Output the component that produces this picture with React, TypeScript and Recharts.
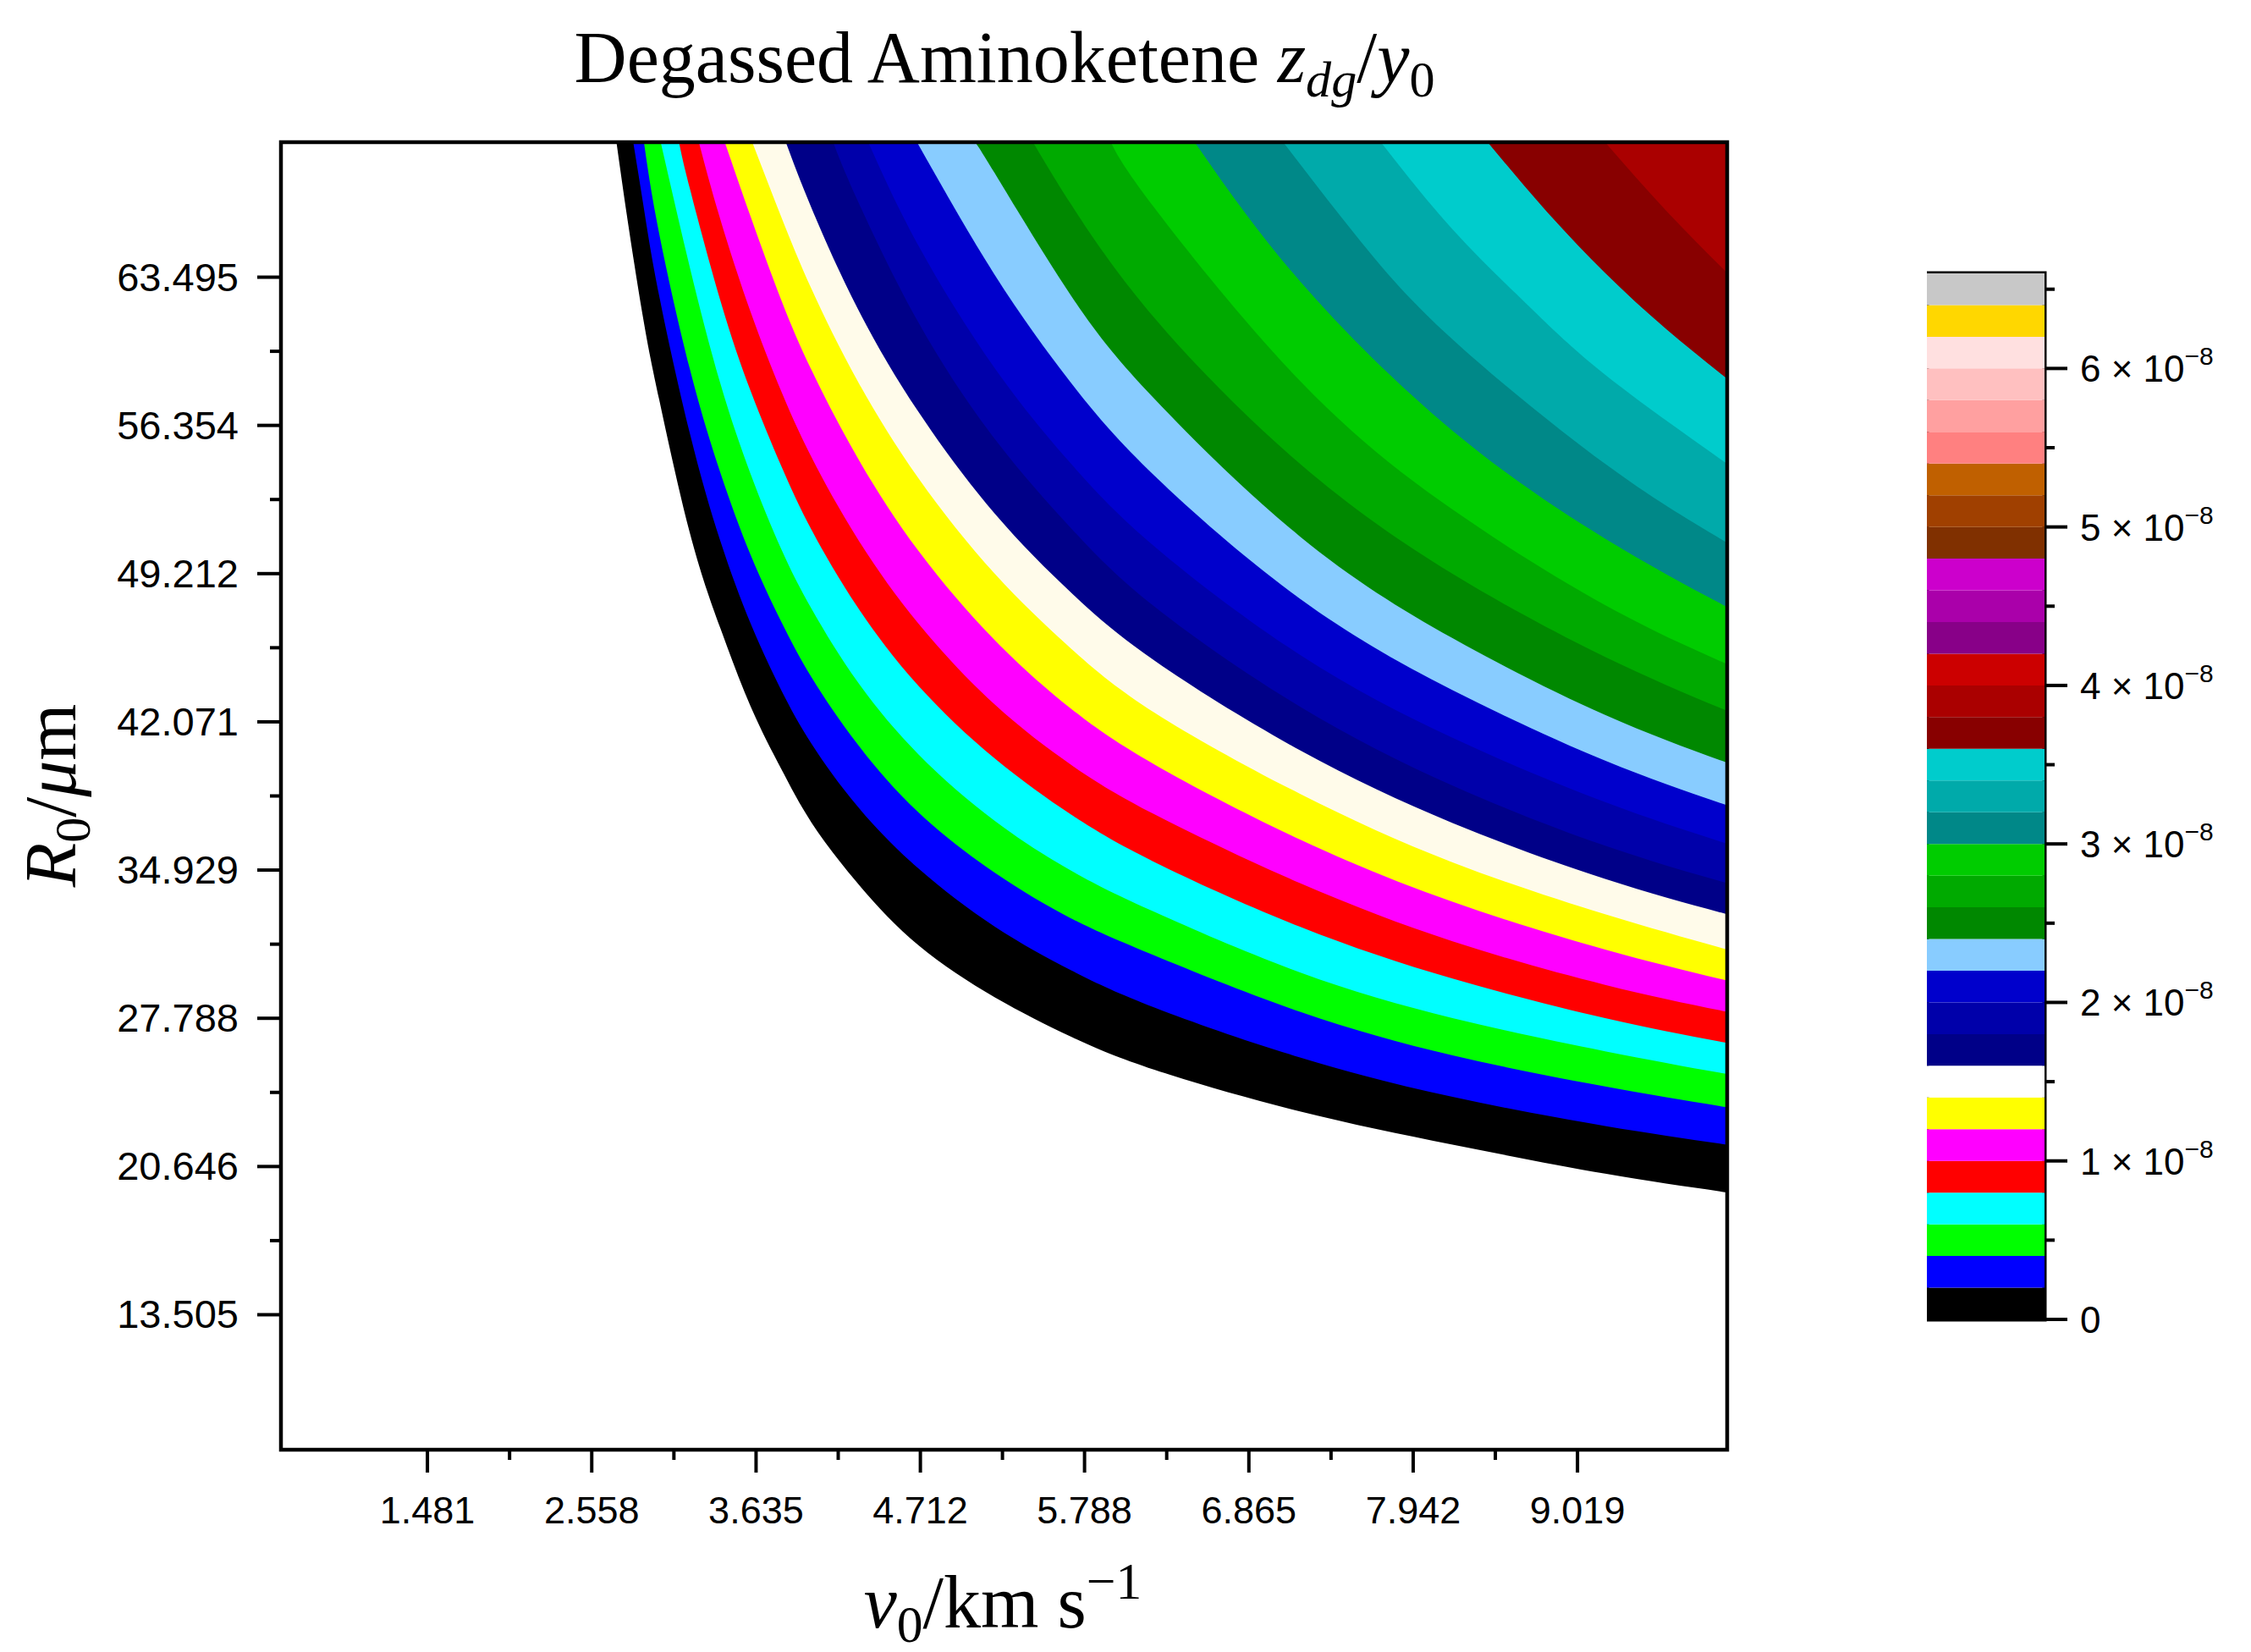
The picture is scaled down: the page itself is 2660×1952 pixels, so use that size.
import React from 'react'
import { ComposedChart, Area, XAxis, YAxis, ReferenceArea, BarChart, Bar } from 'recharts'

// contour edges, as [v0 (km/s), R0 (um)] pairs
// edge k is the lower edge of band k
const edge00: [number, number][] = [[2.72, 70], [2.8, 65.9], [2.9, 61.3], [3.0, 57.6], [3.2, 51.2], [3.4, 46.6], [3.6, 42.8], [3.8, 39.8], [4.0, 37.2], [4.3, 34.3], [4.7, 31.3], [5.2, 28.8], [5.7, 26.9], [6.25, 25.3], [7.2, 23.3], [8.2, 21.7], [9.2, 20.3], [10, 19.4]]
const edge01: [number, number][] = [[2.83, 70], [2.9, 66.8], [3.0, 62.6], [3.2, 56.0], [3.4, 50.8], [3.6, 46.8], [3.8, 43.6], [4.0, 41.0], [4.3, 38.0], [4.7, 35.0], [5.2, 32.2], [5.7, 30.1], [6.25, 28.3], [7.2, 25.9], [8.2, 24.0], [9.2, 22.6], [10, 21.7]]
const edge02: [number, number][] = [[2.9, 70], [3.0, 65.6], [3.2, 59.1], [3.4, 54.1], [3.6, 50.1], [3.8, 46.9], [4.0, 44.2], [4.3, 41.0], [4.7, 37.7], [5.2, 34.8], [5.7, 32.6], [6.25, 30.8], [7.2, 28.1], [8.2, 26.0], [9.2, 24.5], [10, 23.5]]
const edge03: [number, number][] = [[3.01, 70], [3.2, 64.0], [3.4, 58.4], [3.6, 54.0], [3.8, 50.4], [4.0, 47.5], [4.3, 44.0], [4.7, 40.5], [5.2, 37.3], [5.7, 34.9], [6.25, 32.9], [7.2, 30.0], [8.2, 27.8], [9.2, 26.2], [10, 25.1]]
const edge04: [number, number][] = [[3.13, 70], [3.2, 67.8], [3.4, 62.4], [3.6, 58.0], [3.8, 54.4], [4.0, 51.3], [4.3, 47.6], [4.7, 43.8], [5.2, 40.3], [5.7, 37.6], [6.25, 35.3], [7.2, 32.2], [8.2, 29.7], [9.2, 27.8], [10, 26.6]]
const edge05: [number, number][] = [[3.26, 70], [3.4, 66.3], [3.6, 61.8], [3.8, 58.0], [4.0, 54.8], [4.3, 50.9], [4.7, 46.8], [5.2, 42.9], [5.7, 40.0], [6.25, 37.6], [7.2, 34.3], [8.2, 31.5], [9.2, 29.4], [10, 28.1]]
const edge06: [number, number][] = [[3.43, 70], [3.6, 66.4], [3.8, 62.4], [4.0, 59.0], [4.3, 54.8], [4.7, 50.3], [5.2, 46.0], [5.7, 42.7], [6.25, 40.0], [7.2, 36.4], [8.2, 33.4], [9.2, 31.1], [10, 29.6]]
const edge07: [number, number][] = [[3.61, 70], [3.8, 66.4], [4.0, 62.9], [4.3, 58.5], [4.7, 53.8], [5.2, 49.2], [5.7, 45.6], [6.25, 42.5], [7.2, 38.6], [8.2, 35.3], [9.2, 32.8], [10, 31.1]]
const edge08: [number, number][] = [[3.83, 70], [4.0, 66.8], [4.3, 62.0], [4.7, 57.0], [5.2, 52.1], [5.7, 48.3], [6.25, 45.0], [7.2, 40.7], [8.2, 37.2], [9.2, 34.5], [10, 32.8]]
const edge09: [number, number][] = [[4.14, 70], [4.3, 67.2], [4.7, 61.3], [5.2, 55.7], [5.7, 51.4], [6.25, 47.6], [7.2, 42.8], [8.2, 39.0], [9.2, 36.1], [10, 34.3]]
const edge10: [number, number][] = [[4.37, 70], [4.7, 65.0], [5.2, 59.1], [5.7, 54.5], [6.25, 50.5], [7.2, 45.3], [8.2, 41.3], [9.2, 38.2], [10, 36.2]]
const edge11: [number, number][] = [[4.69, 70], [5.2, 63.6], [5.7, 58.4], [6.25, 53.9], [7.2, 48.0], [8.2, 43.6], [9.2, 40.2], [10, 38.05]]
const edge12: [number, number][] = [[5.07, 70], [5.2, 68.5], [5.7, 62.6], [6.25, 57.6], [7.2, 51.0], [8.2, 46.1], [9.2, 42.4], [10, 40.1]]
const edge13: [number, number][] = [[5.45, 70], [5.7, 67.0], [6.25, 61.5], [7.2, 54.5], [8.2, 49.2], [9.2, 45.2], [10, 42.6]]
const edge14: [number, number][] = [[5.96, 70], [6.25, 66.8], [7.2, 58.5], [8.2, 52.3], [9.2, 47.7], [10, 44.85]]
const edge15: [number, number][] = [[6.51, 70], [7.2, 63.3], [8.2, 56.1], [9.2, 50.9], [10, 47.6]]
const edge16: [number, number][] = [[7.09, 70], [7.6, 65.2], [8.2, 60.5], [9.2, 54.5], [10, 50.7]]
const edge17: [number, number][] = [[7.73, 70], [8.2, 65.8], [8.7, 62.1], [9.2, 58.8], [10, 54.5]]
const edge18: [number, number][] = [[8.43, 70], [8.8, 66.8], [9.2, 63.7], [9.6, 61.0], [10, 58.6]]
const edge19: [number, number][] = [[9.2, 70], [9.6, 66.7], [10, 63.7]]

const edges = [edge00, edge01, edge02, edge03, edge04, edge05, edge06, edge07, edge08, edge09,
  edge10, edge11, edge12, edge13, edge14, edge15, edge16, edge17, edge18, edge19]

// colour scale, bottom to top, one band per 0.2 x 10^-8
const bandColors = [
  '#000000', '#0000ff', '#00ff00', '#00ffff', '#ff0000', '#ff00ff', '#ffff00', '#ffffff',
  '#000088', '#0000aa', '#0000cc', '#88ccff', '#008800', '#00aa00', '#00cc00',
  '#008888', '#00aaaa', '#00cccc', '#880000', '#aa0000', '#cc0000',
  '#880088', '#aa00aa', '#cc00cc', '#803000', '#a04000', '#c06000',
  '#ff8080', '#ffa0a0', '#ffc0c0', '#ffe0e0', '#ffd700', '#c8c8c8'
]
// levels in units of 10^-8
const colorLevels = [0, 0.2, 0.4, 0.6, 0.8, 1.0, 1.2, 1.4, 1.6, 1.8, 2.0, 2.2, 2.4, 2.6, 2.8, 3.0, 3.2,
  3.4, 3.6, 3.8, 4.0, 4.2, 4.4, 4.6, 4.8, 5.0, 5.2, 5.4, 5.6, 5.8, 6.0, 6.2, 6.4, 6.6]

const vTicks = [1.481, 2.558, 3.635, 4.712, 5.788, 6.865, 7.942, 9.019]
const vMinor = [2.0195, 3.0965, 4.1735, 5.25, 6.3265, 7.4035, 8.4805]
const rTicks = [13.505, 20.646, 27.788, 34.929, 42.071, 49.212, 56.354, 63.495]
const rMinor = [17.0755, 24.217, 31.3585, 38.5, 45.6415, 52.783, 59.9245]
const cbTicks = [0, 1, 2, 3, 4, 5, 6]
const cbMinor = [0.5, 1.5, 2.5, 3.5, 4.5, 5.5, 6.5]

// merge the edges into one table keyed on v
const rowMap = new Map<number, Record<string, number>>()
edges.forEach((edge, k) => {
  edge.forEach(([v, r]) => {
    const row = rowMap.get(v) ?? { v }
    row['b' + k] = r
    rowMap.set(v, row)
  })
})
const table = [...rowMap.values()].sort((a, b) => a.v - b.v)

const cbRow: Record<string, number | string> = { name: 'z' }
bandColors.forEach((_, k) => { cbRow['s' + k] = colorLevels[k + 1] - colorLevels[k] })

// the white band looks cream in the plot
const plotColor = (k: number) => (bandColors[k] === '#ffffff' ? '#fffbea' : bandColors[k])

const SANS = "'Liberation Sans', Arial, sans-serif"
const SERIF = "'Liberation Serif', 'Times New Roman', serif"

const renderVTick = (props: any) => {
  const { x, y, payload } = props
  const major = vTicks.includes(payload.value)
  return (
    <g>
      <line x1={x} x2={x} y1={y} y2={y + (major ? 27 : 12)} stroke="#000" strokeWidth={4} />
      {major && (
        <text x={x} y={y + 87} textAnchor="middle" fontSize={45} fontFamily={SANS} fill="#000">
          {payload.value.toFixed(3)}
        </text>
      )}
    </g>
  )
}

const renderRTick = (props: any) => {
  const { x, y, payload } = props
  const major = rTicks.includes(payload.value)
  return (
    <g>
      <line x1={x - (major ? 28 : 13)} x2={x} y1={y} y2={y} stroke="#000" strokeWidth={4} />
      {major && (
        <text x={x - 50} y={y + 16} textAnchor="end" fontSize={47} fontFamily={SANS} fill="#000">
          {payload.value.toFixed(3)}
        </text>
      )}
    </g>
  )
}

const renderCbTick = (props: any) => {
  const { x, y, payload } = props
  const major = cbTicks.includes(payload.value)
  return (
    <g>
      <line x1={x} x2={x + (major ? 27 : 12)} y1={y} y2={y} stroke="#000" strokeWidth={4} />
      {major && (
        <text x={x + 42} y={y + 16} textAnchor="start" fontSize={44} fontFamily={SANS} fill="#000">
          {payload.value === 0 ? '0' : `${payload.value} × 10`}
          {payload.value !== 0 && <tspan fontSize={30} dy={-20}>{'\u22128'}</tspan>}
        </text>
      )}
    </g>
  )
}

const subStyle: React.CSSProperties = { fontSize: '0.7em', verticalAlign: '-0.28em', lineHeight: 0 }
const supStyle: React.CSSProperties = { fontSize: '0.7em', verticalAlign: '0.55em', lineHeight: 0 }

export default function App() {
  return (
    <div style={{ position: 'absolute', left: 0, top: 0, width: 2660, height: 1952, background: '#fff', overflow: 'hidden' }}>
      <style>{'body{margin:0;overflow:hidden}'}</style>

      <div style={{ position: 'absolute', left: 0, top: 25, width: 2374, textAlign: 'center', fontFamily: SERIF, fontSize: 86, lineHeight: '86px', whiteSpace: 'nowrap' }}>
        Degassed Aminoketene <i>z</i><i style={subStyle}>dg</i>/<i>y</i><span style={subStyle}>0</span>
      </div>

      <div style={{ position: 'absolute', left: 0, top: 1850, width: 2370, textAlign: 'center', fontFamily: SERIF, fontSize: 88, lineHeight: '88px', whiteSpace: 'nowrap' }}>
        <i>v</i><span style={subStyle}>0</span>/km s<span style={supStyle}>{'\u22121'}</span>
      </div>

      <div style={{ position: 'absolute', left: 60, top: 940, transform: 'translate(-50%, -50%) rotate(-90deg)', fontFamily: SERIF, fontSize: 86, lineHeight: '86px', whiteSpace: 'nowrap' }}>
        <i>R</i><span style={subStyle}>0</span>/<i>μ</i>m
      </div>

      <div style={{ position: 'absolute', left: 0, top: 0 }}>
        <ComposedChart width={2660} height={1952} data={table} margin={{ top: 168, right: 619, bottom: 139, left: 132 }}>
          <XAxis type="number" dataKey="v" domain={[0.521, 10]} allowDataOverflow
            ticks={[...vTicks, ...vMinor].sort((a, b) => a - b)} interval={0}
            tick={renderVTick} tickLine={false} axisLine={false} tickSize={0} tickMargin={0} height={100} />
          <YAxis type="number" domain={[7, 70]} allowDataOverflow
            ticks={[...rTicks, ...rMinor].sort((a, b) => a - b)} interval={0}
            tick={renderRTick} tickLine={false} axisLine={false} tickSize={0} tickMargin={0} width={200} />
          {edges.map((_, k) => (
            <Area key={k} dataKey={'b' + k} type="natural" baseValue="dataMax" stroke="none"
              fill={plotColor(k)} fillOpacity={1} connectNulls dot={false} activeDot={false}
              isAnimationActive={false} />
          ))}
          <ReferenceArea x1={0.521} x2={10} y1={7} y2={70} fill="none" stroke="#000" strokeWidth={4.5} ifOverflow="visible" />
        </ComposedChart>
      </div>

      <div style={{ position: 'absolute', left: 2277, top: 313 }}>
        <BarChart width={379} height={1300} data={[cbRow]} margin={{ top: 10, right: 0, bottom: 54, left: 0 }} barCategoryGap={0} barGap={0}>
          <XAxis dataKey="name" hide />
          <YAxis orientation="right" type="number" domain={[0, 6.6]} allowDataOverflow
            ticks={[...cbTicks, ...cbMinor].sort((a, b) => a - b)} interval={0}
            tick={renderCbTick} tickLine={false} axisLine={false} tickSize={0} tickMargin={0} width={240} />
          {bandColors.map((c, k) => (
            <Bar key={k} dataKey={'s' + k} stackId="cb" fill={c} isAnimationActive={false} />
          ))}
          <ReferenceArea y1={0} y2={6.6} fill="none" stroke="#000" strokeWidth={5} ifOverflow="visible" />
        </BarChart>
      </div>
    </div>
  )
}
